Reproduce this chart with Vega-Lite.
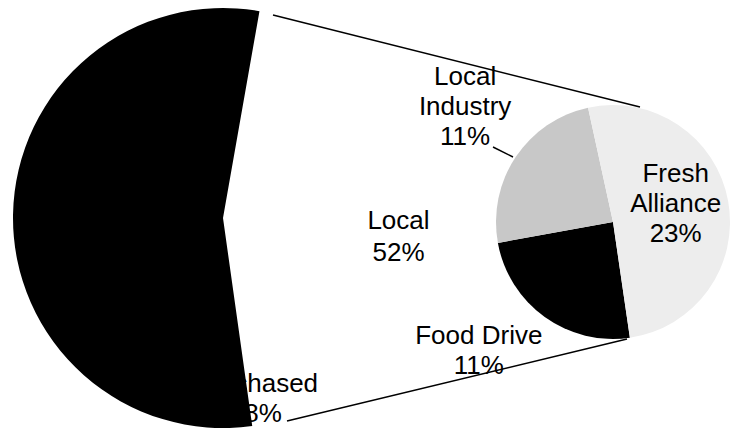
{
  "$schema": "https://vega.github.io/schema/vega-lite/v6.json",
  "autosize": "none",
  "width": 736,
  "height": 430,
  "padding": 0,
  "background": "white",
  "view": {"stroke": null},
  "datasets": {
    "slices": [
      {"pie": "Main", "category": "Local", "label": "Local\n52%", "value": 45, "ord": 1},
      {"pie": "Main", "category": "Purchased", "label": "Purchased\n48%", "value": 55, "ord": 2},
      {"pie": "Detail", "category": "Food Drive", "label": "Food Drive\n11%", "value": 11, "ord": 1},
      {"pie": "Detail", "category": "Local Industry", "label": "Local\nIndustry\n11%", "value": 11, "ord": 2},
      {"pie": "Detail", "category": "Fresh Alliance", "label": "Fresh\nAlliance\n23%", "value": 23, "ord": 3}
    ],
    "connectors": [
      {"x": 273, "y": 15, "x2": 640, "y2": 107},
      {"x": 287, "y": 421, "x2": 627, "y2": 339},
      {"x": 493, "y": 147, "x2": 513, "y2": 157}
    ]
  },
  "resolve": {"scale": {"x": "independent", "y": "independent", "theta": "independent"}},
  "layer": [
    {
      "data": {"name": "slices"},
      "transform": [{"filter": "datum.pie === 'Main'"}],
      "mark": {"type": "arc", "outerRadius": 210, "stroke": null},
      "encoding": {
        "x": {"field": "pie", "type": "nominal", "scale": {"type": "point", "domain": ["Main", "Detail"], "range": [223, 613], "padding": 0}, "axis": null},
        "y": {"field": "pie", "type": "nominal", "scale": {"type": "point", "domain": ["Main", "Detail"], "range": [218, 222], "padding": 0}, "axis": null},
        "theta": {"field": "value", "type": "quantitative", "stack": true, "scale": {"domain": [0, 100], "range": [0.1745, 6.4577]}},
        "order": {"field": "ord", "type": "quantitative"},
        "color": {"field": "category", "type": "nominal", "legend": null,
          "scale": {"domain": ["Local", "Purchased", "Food Drive", "Local Industry", "Fresh Alliance"], "range": ["#ffffff", "#000000", "#000000", "#c8c8c8", "#ededed"]}}
      }
    },
    {
      "data": {"name": "slices"},
      "transform": [{"filter": "datum.pie === 'Detail'"}],
      "mark": {"type": "arc", "outerRadius": 117, "stroke": null},
      "encoding": {
        "x": {"field": "pie", "type": "nominal", "scale": {"type": "point", "domain": ["Main", "Detail"], "range": [223, 613], "padding": 0}, "axis": null},
        "y": {"field": "pie", "type": "nominal", "scale": {"type": "point", "domain": ["Main", "Detail"], "range": [218, 222], "padding": 0}, "axis": null},
        "theta": {"field": "value", "type": "quantitative", "stack": true, "scale": {"domain": [0, 45], "range": [2.9967, 9.2799]}},
        "order": {"field": "ord", "type": "quantitative"},
        "color": {"field": "category", "type": "nominal", "legend": null,
          "scale": {"domain": ["Local", "Purchased", "Food Drive", "Local Industry", "Fresh Alliance"], "range": ["#ffffff", "#000000", "#000000", "#c8c8c8", "#ededed"]}}
      }
    },
    {
      "data": {"name": "connectors"},
      "mark": {"type": "rule", "color": "#000000", "strokeWidth": 1.5},
      "encoding": {
        "x": {"field": "x", "type": "quantitative", "scale": {"domain": [0, 736], "range": [0, 736], "nice": false, "zero": false}, "axis": null},
        "x2": {"field": "x2"},
        "y": {"field": "y", "type": "quantitative", "scale": {"domain": [0, 430], "range": [0, 430], "nice": false, "zero": false}, "axis": null},
        "y2": {"field": "y2"}
      }
    },
    {
      "data": {"name": "slices"},
      "transform": [{"filter": "datum.pie === 'Main'"}],
      "mark": {"type": "text", "radius": 175.5, "thetaOffset": 0, "font": "Liberation Sans", "fontSize": 26, "lineBreak": "\n", "lineHeight": 32, "align": "center", "baseline": "middle", "color": "#000000"},
      "encoding": {
        "x": {"field": "pie", "type": "nominal", "scale": {"type": "point", "domain": ["Main", "Detail"], "range": [223, 613], "padding": 0}, "axis": null},
        "y": {"field": "pie", "type": "nominal", "scale": {"type": "point", "domain": ["Main", "Detail"], "range": [218, 222], "padding": 0}, "axis": null},
        "theta": {"field": "value", "type": "quantitative", "stack": true, "scale": {"domain": [0, 100], "range": [0.1745, 6.4577]}},
        "order": {"field": "ord", "type": "quantitative"},
        "text": {"condition": {"test": "datum.category === 'Local'", "field": "label"}, "value": ""}
      }
    },
    {
      "data": {"name": "slices"},
      "transform": [{"filter": "datum.pie === 'Main'"}],
      "mark": {"type": "text", "radius": 169.2, "thetaOffset": -1.784, "font": "Liberation Sans", "fontSize": 26, "lineBreak": "\n", "lineHeight": 30, "align": "center", "baseline": "middle", "color": "#000000"},
      "encoding": {
        "x": {"field": "pie", "type": "nominal", "scale": {"type": "point", "domain": ["Main", "Detail"], "range": [223, 613], "padding": 0}, "axis": null},
        "y": {"field": "pie", "type": "nominal", "scale": {"type": "point", "domain": ["Main", "Detail"], "range": [218, 222], "padding": 0}, "axis": null},
        "theta": {"field": "value", "type": "quantitative", "stack": true, "scale": {"domain": [0, 100], "range": [0.1745, 6.4577]}},
        "order": {"field": "ord", "type": "quantitative"},
        "text": {"condition": {"test": "datum.category === 'Purchased'", "field": "label"}, "value": ""}
      }
    },
    {
      "data": {"name": "slices"},
      "transform": [{"filter": "datum.pie === 'Detail'"}],
      "mark": {"type": "text", "radius": 207, "thetaOffset": 0.187, "font": "Liberation Sans", "fontSize": 26, "lineBreak": "\n", "lineHeight": 30, "align": "center", "baseline": "middle", "color": "#000000"},
      "encoding": {
        "x": {"field": "pie", "type": "nominal", "scale": {"type": "point", "domain": ["Main", "Detail"], "range": [223, 613], "padding": 0}, "axis": null},
        "y": {"field": "pie", "type": "nominal", "scale": {"type": "point", "domain": ["Main", "Detail"], "range": [218, 222], "padding": 0}, "axis": null},
        "theta": {"field": "value", "type": "quantitative", "stack": true, "scale": {"domain": [0, 45], "range": [2.9967, 9.2799]}},
        "order": {"field": "ord", "type": "quantitative"},
        "text": {"condition": {"test": "datum.category === 'Local Industry'", "field": "label"}, "value": ""}
      }
    },
    {
      "data": {"name": "slices"},
      "transform": [{"filter": "datum.pie === 'Detail'"}],
      "mark": {"type": "text", "radius": 176, "thetaOffset": 0.244, "font": "Liberation Sans", "fontSize": 26, "lineBreak": "\n", "lineHeight": 30, "align": "center", "baseline": "middle", "color": "#000000"},
      "encoding": {
        "x": {"field": "pie", "type": "nominal", "scale": {"type": "point", "domain": ["Main", "Detail"], "range": [223, 613], "padding": 0}, "axis": null},
        "y": {"field": "pie", "type": "nominal", "scale": {"type": "point", "domain": ["Main", "Detail"], "range": [218, 222], "padding": 0}, "axis": null},
        "theta": {"field": "value", "type": "quantitative", "stack": true, "scale": {"domain": [0, 45], "range": [2.9967, 9.2799]}},
        "order": {"field": "ord", "type": "quantitative"},
        "text": {"condition": {"test": "datum.category === 'Food Drive'", "field": "label"}, "value": ""}
      }
    },
    {
      "data": {"name": "slices"},
      "transform": [{"filter": "datum.pie === 'Detail'"}],
      "mark": {"type": "text", "radius": 79, "thetaOffset": -0.475, "font": "Liberation Sans", "fontSize": 26, "lineBreak": "\n", "lineHeight": 30, "align": "center", "baseline": "middle", "color": "#000000"},
      "encoding": {
        "x": {"field": "pie", "type": "nominal", "scale": {"type": "point", "domain": ["Main", "Detail"], "range": [223, 613], "padding": 0}, "axis": null},
        "y": {"field": "pie", "type": "nominal", "scale": {"type": "point", "domain": ["Main", "Detail"], "range": [218, 222], "padding": 0}, "axis": null},
        "theta": {"field": "value", "type": "quantitative", "stack": true, "scale": {"domain": [0, 45], "range": [2.9967, 9.2799]}},
        "order": {"field": "ord", "type": "quantitative"},
        "text": {"condition": {"test": "datum.category === 'Fresh Alliance'", "field": "label"}, "value": ""}
      }
    }
  ]
}
